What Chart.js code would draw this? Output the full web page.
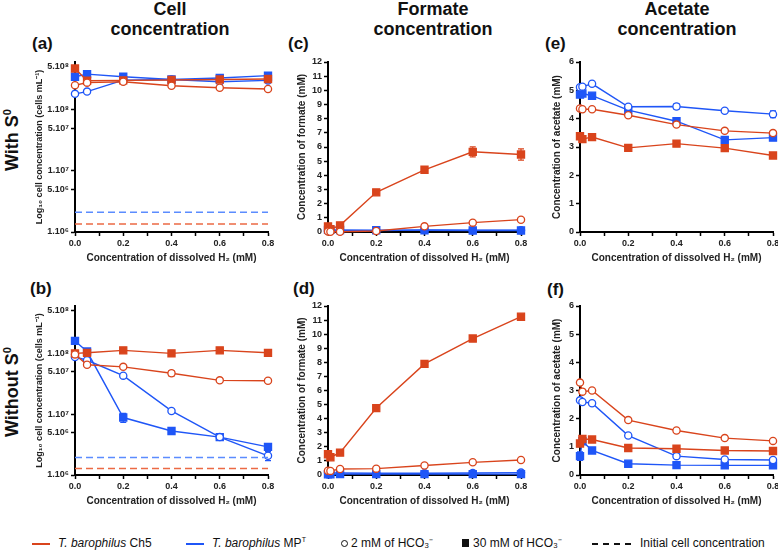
<!DOCTYPE html>
<html>
<head>
<meta charset="utf-8">
<script src="https://cdn.jsdelivr.net/npm/chart.js@4.4.1/dist/chart.umd.min.js"></script>
<style>
  body { margin: 0; width: 778px; height: 551px; background: #fff; position: relative; overflow: hidden;
         font-family: "Liberation Sans", Arial, sans-serif; color: #111; }
  canvas { position: absolute; }
  .head { position: absolute; width: 200px; text-align: center; font-weight: bold; font-size: 18px; line-height: 20px; top: -1px; }
  .letter { position: absolute; font-weight: bold; font-size: 17px; line-height: 20px; }
  .row { position: absolute; width: 140px; height: 24px; line-height: 24px; text-align: center; font-weight: bold;
         font-size: 18px; transform: rotate(-90deg); white-space: nowrap; }
  .row sup { font-size: 11px; line-height: 0; }
  .leg { position: absolute; font-size: 12px; line-height: 14px; top: 536px; white-space: nowrap; }
  .leg sup { font-size: 7px; line-height: 0; vertical-align: 5px; }
  .sw { position: absolute; }
</style>
</head>
<body>
<div class="head" style="left:70px">Cell<br>concentration</div>
<div class="head" style="left:333px">Formate<br>concentration</div>
<div class="head" style="left:577px">Acetate<br>concentration</div>

<div class="letter" style="left:32px;top:34px">(a)</div>
<div class="letter" style="left:30px;top:279px">(b)</div>
<div class="letter" style="left:288px;top:34px">(c)</div>
<div class="letter" style="left:293px;top:279px">(d)</div>
<div class="letter" style="left:545px;top:34px">(e)</div>
<div class="letter" style="left:547px;top:280px">(f)</div>

<div class="row" style="left:-58px;top:128px">With S<sup>0</sup></div>
<div class="row" style="left:-58px;top:380px">Without S<sup>0</sup></div>

<canvas id="cA"></canvas>
<canvas id="cB"></canvas>
<canvas id="cC"></canvas>
<canvas id="cD"></canvas>
<canvas id="cE"></canvas>
<canvas id="cF"></canvas>

<div class="sw" style="left:32px;top:543px;width:18px;height:2px;background:#d9441c"></div>
<div class="leg" style="left:58px"><i>T. barophilus</i> Ch5</div>
<div class="sw" style="left:186px;top:543px;width:18px;height:2px;background:#1f56f7"></div>
<div class="leg" style="left:212px"><i>T. barophilus</i> MP<sup>T</sup></div>
<div class="sw" style="left:341px;top:540px;width:5px;height:5px;border:1px solid #111;border-radius:50%"></div>
<div class="leg" style="left:351px">2 mM of HCO₃⁻</div>
<div class="sw" style="left:462px;top:539px;width:7px;height:8px;background:#111"></div>
<div class="leg" style="left:473px">30 mM of HCO₃⁻</div>
<div class="sw" style="left:592px;top:543px;width:40px;height:1.5px;background:repeating-linear-gradient(90deg,#111 0 6px,transparent 6px 11px)"></div>
<div class="leg" style="left:640px">Initial cell concentration</div>

<script>
// x values (dissolved H2, mM)
const xCell = [0, 0.05, 0.2, 0.4, 0.6, 0.8];
const xMetab = [0, 0.01, 0.05, 0.2, 0.4, 0.6, 0.8];

// log axis ticks for cell concentration
const cellTicks = [1e6, 5e6, 1e7, 5e7, 1e8, 5e8];
const cellTickLabels = ['1.10⁶', '5.10⁶', '1.10⁷', '5.10⁷', '1.10⁸', '5.10⁸'];

// (a) cell concentration, with S0
const ch5Hco30CellS = [4.7e8, 2.96e8, 3.0e8, 3.05e8, 3.1e8, 3.16e8];
const ch5Hco2CellS  = [2.5e8, 2.76e8, 2.86e8, 2.45e8, 2.28e8, 2.17e8];
const mpHco30CellS  = [3.44e8, 3.8e8, 3.44e8, 3.1e8, 3.28e8, 3.6e8];
const mpHco2CellS   = [1.81e8, 1.97e8, 3.03e8, 3.1e8, 2.86e8, 3.0e8];
const initCellS = [1.35e6, 2.1e6];      // Ch5, MPT

// (b) cell concentration, without S0
const ch5Hco30CellNoS = [1.0e8, 1.02e8, 1.12e8, 1.0e8, 1.12e8, 1.02e8];
const ch5Hco2CellNoS  = [9.6e7, 6.5e7, 6.0e7, 4.7e7, 3.6e7, 3.55e7];
const mpHco30CellNoS  = [1.6e8, 1.07e8, 8.8e6, 5.3e6, 4.2e6, 2.9e6];
const mpHco2CellNoS   = [8.7e7, 7.7e7, 4.3e7, 1.13e7, 4.2e6, 2.07e6];
const initCellNoS = [1.28e6, 1.94e6];

// (c) formate, with S0
const ch5Hco30FormS = [0.4, 0.2, 0.47, 2.8, 4.39, 5.66, 5.47];
const ch5Hco2FormS  = [0.03, 0.02, 0.02, 0.07, 0.4, 0.66, 0.87];
const mpHco30FormS  = [0.15, 0.15, 0.14, 0.12, 0.12, 0.11, 0.11];
const mpHco2FormS   = [0.08, 0.08, 0.1, 0.1, 0.14, 0.12, 0.12];

// (d) formate, without S0
const ch5Hco30FormNoS = [1.47, 1.26, 1.59, 4.75, 7.89, 9.69, 11.24];
const ch5Hco2FormNoS  = [0.31, 0.29, 0.43, 0.45, 0.67, 0.9, 1.07];
const mpHco30FormNoS  = [0.05, 0.05, 0.06, 0.06, 0.06, 0.06, 0.06];
const mpHco2FormNoS   = [0.19, 0.16, 0.14, 0.12, 0.12, 0.14, 0.17];

// (e) acetate, with S0
const ch5Hco30AcetS = [3.38, 3.28, 3.35, 2.97, 3.12, 2.96, 2.7];
const ch5Hco2AcetS  = [4.36, 4.33, 4.33, 4.12, 3.79, 3.57, 3.49];
const mpHco30AcetS  = [4.85, 4.89, 4.81, 4.3, 3.91, 3.25, 3.33];
const mpHco2AcetS   = [5.11, 5.13, 5.23, 4.42, 4.43, 4.28, 4.16];

// (f) acetate, without S0
const ch5Hco30AcetNoS = [1.12, 1.28, 1.26, 0.96, 0.93, 0.87, 0.85];
const ch5Hco2AcetNoS  = [3.28, 2.96, 3.0, 1.95, 1.58, 1.31, 1.21];
const mpHco30AcetNoS  = [0.67, 1.2, 0.87, 0.4, 0.35, 0.34, 0.34];
const mpHco2AcetNoS   = [2.65, 2.59, 2.55, 1.4, 0.67, 0.55, 0.53];

// visible error bars (same units as the series)
const errCh5Hco30CellS   = [0.5e8, 0, 0, 0, 0, 0];
const errCh5Hco30CellNoS = [0, 0, 0, 0.1e8, 0, 0];
const errCh5Hco2CellNoS  = [0, 0, 0, 0.5e7, 0, 0];
const errMpHco30CellNoS  = [0, 0, 1.5e6, 0, 0, 0.3e6];
const errMpHco2CellNoS   = [0, 0, 0, 0, 0, 0.35e6];
const errCh5Hco30FormS   = [0.2, 0, 0, 0, 0, 0.35, 0.4];
const errMpHco2AcetS     = [0, 0, 0.07, 0, 0.1, 0, 0.12];
const errMpHco30AcetNoS  = [0.15, 0, 0, 0, 0, 0, 0];

const RED = '#d9441c', BLUE = '#1f56f7';
const RED_DASH = '#ec6a44', BLUE_DASH = '#5b8cff';
const TXT = '#222';

function series(xs, ys, color, filled, errs) {
  return {
    data: xs.map((x, i) => ({ x: x, y: ys[i] })),
    borderColor: color,
    backgroundColor: filled ? color : '#fff',
    pointBackgroundColor: filled ? color : '#fff',
    pointBorderColor: color,
    pointStyle: filled ? 'rect' : 'circle',
    pointRadius: filled ? 5 : 3.6,
    pointBorderWidth: 1.3,
    borderWidth: 1.4,
    tension: 0,
    clip: false,
    errs: errs || null
  };
}

function dashed(y, color) {
  return {
    data: [{ x: 0, y: y }, { x: 0.8, y: y }],
    borderColor: color, borderWidth: 1.5, borderDash: [7, 4],
    pointRadius: 0, clip: false
  };
}

// error bars drawn under the markers, from the y scale of each panel
const errorBars = {
  id: 'errorBars',
  beforeDatasetsDraw(chart) {
    const ctx = chart.ctx, ys = chart.scales.y;
    chart.data.datasets.forEach((ds, i) => {
      if (!ds.errs) return;
      const meta = chart.getDatasetMeta(i);
      ctx.save();
      ctx.strokeStyle = ds.borderColor;
      ctx.lineWidth = 1.2;
      ctx.setLineDash([]);
      meta.data.forEach((pt, j) => {
        const e = ds.errs[j];
        if (!e) return;
        const v = ds.data[j].y;
        const t = ys.getPixelForValue(v + e), b = ys.getPixelForValue(v - e);
        ctx.beginPath();
        ctx.moveTo(pt.x, t); ctx.lineTo(pt.x, b);
        ctx.moveTo(pt.x - 3, t); ctx.lineTo(pt.x + 3, t);
        ctx.moveTo(pt.x - 3, b); ctx.lineTo(pt.x + 3, b);
        ctx.stroke();
      });
      ctx.restore();
    });
  }
};

const tickFont = { size: 9, weight: 'bold' };
const gridTicks = { display: true, drawOnChartArea: false, drawTicks: true, tickLength: 4, tickColor: '#000', tickWidth: 1.5 };
const axisBorder = { display: true, color: '#000', width: 2 };

function xAxis() {
  return {
    type: 'linear', min: 0, max: 0.8,
    border: axisBorder, grid: gridTicks,
    ticks: { stepSize: 0.1, autoSkip: false, maxRotation: 0, padding: 2, color: TXT, font: tickFont,
             callback: v => (Math.round(v * 10) % 2 === 0 ? v.toFixed(1) : '') },
    title: { display: true, text: 'Concentration of dissolved H₂ (mM)', color: TXT,
             font: { size: 10, weight: 'bold' }, padding: { top: 0, bottom: 2 } },
    afterFit: s => { s.height = 34; }
  };
}

function cellAxis(yW) {
  return {
    type: 'logarithmic', min: 1e6, max: 6e8,
    border: axisBorder, grid: gridTicks,
    afterBuildTicks: s => { s.ticks = cellTicks.map(v => ({ value: v })); },
    ticks: { padding: 2, color: TXT, font: tickFont, callback: (v, i) => cellTickLabels[i] },
    title: { display: true, text: 'Log₁₀ cell concentration (cells mL⁻¹)', color: TXT,
             font: { size: 9, weight: 'bold' }, padding: { top: 0, bottom: 0 } },
    afterFit: s => { s.width = yW; }
  };
}

function linAxis(yW, max, text) {
  return {
    type: 'linear', min: 0, max: max,
    border: axisBorder, grid: gridTicks,
    ticks: { stepSize: 1, padding: 2, color: TXT, font: tickFont },
    title: { display: true, text: text, color: TXT, font: { size: 10, weight: 'bold' }, padding: { top: 0, bottom: 0 } },
    afterFit: s => { s.width = yW; }
  };
}

function panel(id, left, top, yW, chartH, yScale, datasets) {
  const cv = document.getElementById(id);
  cv.width = yW + 193 + 10;
  cv.height = 8 + chartH + 34;
  cv.style.left = left + 'px';
  cv.style.top = top + 'px';
  new Chart(cv, {
    type: 'line',
    data: { datasets: datasets },
    options: {
      responsive: false, animation: false,
      layout: { padding: { top: 8, right: 10, left: 0, bottom: 0 } },
      plugins: { legend: { display: false }, tooltip: { enabled: false } },
      scales: { x: xAxis(), y: yScale }
    },
    plugins: [errorBars]
  });
}

// top row: with S0
panel('cA', 34, 54, 41, 170, cellAxis(41), [
  dashed(initCellS[0], RED_DASH), dashed(initCellS[1], BLUE_DASH),
  series(xCell, ch5Hco2CellS, RED, false),
  series(xCell, ch5Hco30CellS, RED, true, errCh5Hco30CellS),
  series(xCell, mpHco2CellS, BLUE, false),
  series(xCell, mpHco30CellS, BLUE, true)
]);
panel('cC', 296, 54, 32, 170, linAxis(32, 12, 'Concentration of formate (mM)'), [
  series(xMetab, ch5Hco2FormS, RED, false),
  series(xMetab, ch5Hco30FormS, RED, true, errCh5Hco30FormS),
  series(xMetab, mpHco30FormS, BLUE, true),
  series(xMetab, mpHco2FormS, BLUE, false)
]);
panel('cE', 551, 54, 29, 170, linAxis(29, 6, 'Concentration of acetate (mM)'), [
  series(xMetab, ch5Hco2AcetS, RED, false),
  series(xMetab, ch5Hco30AcetS, RED, true),
  series(xMetab, mpHco2AcetS, BLUE, false, errMpHco2AcetS),
  series(xMetab, mpHco30AcetS, BLUE, true)
]);

// bottom row: without S0
panel('cB', 34, 298, 41, 169, cellAxis(41), [
  dashed(initCellNoS[0], RED_DASH), dashed(initCellNoS[1], BLUE_DASH),
  series(xCell, ch5Hco2CellNoS, RED, false, errCh5Hco2CellNoS),
  series(xCell, ch5Hco30CellNoS, RED, true, errCh5Hco30CellNoS),
  series(xCell, mpHco2CellNoS, BLUE, false, errMpHco2CellNoS),
  series(xCell, mpHco30CellNoS, BLUE, true, errMpHco30CellNoS)
]);
panel('cD', 296, 298, 32, 169, linAxis(32, 12, 'Concentration of formate (mM)'), [
  series(xMetab, ch5Hco2FormNoS, RED, false),
  series(xMetab, ch5Hco30FormNoS, RED, true),
  series(xMetab, mpHco30FormNoS, BLUE, true),
  series(xMetab, mpHco2FormNoS, BLUE, false)
]);
panel('cF', 551, 298, 29, 169, linAxis(29, 6, 'Concentration of acetate (mM)'), [
  series(xMetab, ch5Hco2AcetNoS, RED, false),
  series(xMetab, ch5Hco30AcetNoS, RED, true),
  series(xMetab, mpHco2AcetNoS, BLUE, false),
  series(xMetab, mpHco30AcetNoS, BLUE, true, errMpHco30AcetNoS)
]);
</script>
</body>
</html>
